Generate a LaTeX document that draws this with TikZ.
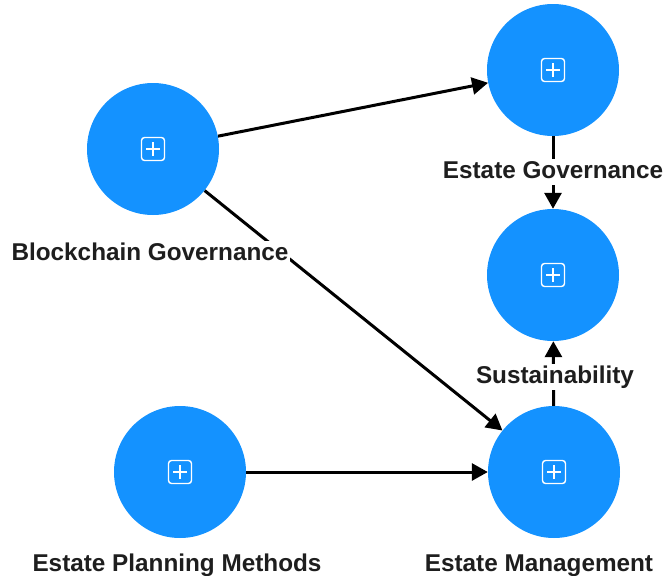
\documentclass[tikz,border=0pt]{standalone}
\usepackage{fontspec}
\setmainfont{Liberation Sans}
\usetikzlibrary{positioning, arrows.meta, backgrounds}
\definecolor{topicblue}{RGB}{20,146,255}
\definecolor{labelgray}{RGB}{30,30,30}

\begin{document}
\begin{tikzpicture}[
      x=1pt, y=-1pt,
      % トピック（青い円）の基本スタイル設定
      topic/.style={circle, fill=topicblue, minimum size=132pt, inner sep=0pt,
        path picture={
          \draw[white, line width=1.4pt, rounded corners=3pt]
            ([shift={(-11.5pt,-11.5pt)}]path picture bounding box.center) rectangle ++(23pt,23pt);
          \draw[white, line width=1.4pt]
            ([xshift=-7pt]path picture bounding box.center) -- ++(14pt,0pt)
            ([yshift=-7pt]path picture bounding box.center) -- ++(0pt,14pt);
        }},
      % ラベルのスタイル設定（背景を白で塗り、線を隠す）
      tag/.style={fill=white, inner sep=1.5pt, text=labelgray, text height=18pt, text depth=5pt,
        font=\fontsize{24.3}{28}\selectfont\bfseries},
      % 矢印のスタイル設定
      line/.style={draw, line width=3pt, -{Triangle[length=16pt, width=17pt]}}
    ]

    \useasboundingbox (0,0) rectangle (665,576);

    % --- 左側 ---
    \node [topic] (blockchain) at (153,149) {};
    \node [tag, below=25.5pt of blockchain, xshift=-3pt] (blockchainlabel) {Blockchain Governance};
    \node [topic] (planning) at (180,472) {};
    \node [tag, below=13.5pt of planning, xshift=-3pt] (planninglabel) {Estate Planning Methods};

    % --- 右側 ---
    \node [topic] (estategov) at (553,70) {};
    \node [tag, below=22.5pt of estategov] (estategovlabel) {Estate Governance};
    \node [topic] (sustain) at (553,275) {};
    \node [tag, below=22.5pt of sustain, xshift=2pt] (sustainlabel) {Sustainability};
    \node [topic] (management) at (554,472) {};
    \node [tag, below=13.5pt of management, xshift=-15pt] (managementlabel) {Estate Management};

    % --- 矢印（ラベルの下に描く） ---
    \begin{pgfonlayer}{background}
      \draw [line] (blockchain) -- (estategov);
      \draw [line] (blockchain) -- (management);
      \draw [line] (planning) -- (management);
      \draw [line] (estategov) -- (sustain);
      \draw [line] (management) -- (sustain);
    \end{pgfonlayer}

    \end{tikzpicture}
\end{document}
